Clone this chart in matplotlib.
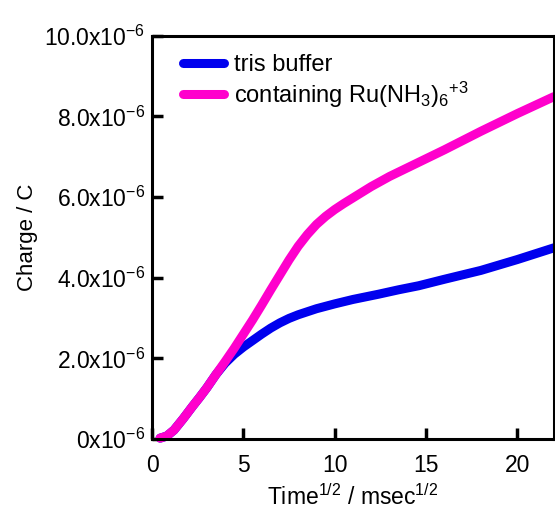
import matplotlib
matplotlib.use("Agg")
import matplotlib.pyplot as plt
from matplotlib.ticker import FuncFormatter

plt.rcParams["font.family"] = ["Liberation Sans", "DejaVu Sans"]
plt.rcParams["mathtext.fontset"] = "custom"
plt.rcParams["mathtext.rm"] = "Liberation Sans"
plt.rcParams["mathtext.it"] = "Liberation Sans:italic"
plt.rcParams["mathtext.bf"] = "Liberation Sans:bold"

# Time^1/2 (msec^1/2) and charge (uC)
t_tris = [0.44, 0.8, 1.2, 1.7, 2.2, 2.6, 3.0, 3.5, 4.0, 4.5, 5.0, 5.5, 6.0,
          6.5, 7.0, 7.5, 8.0, 9.0, 10.0, 11.0, 12.4, 13.5, 14.6, 16.0, 18.0,
          20.0, 22.0]
q_tris = [0.02, 0.07, 0.22, 0.5, 0.8, 1.03, 1.27, 1.6, 1.88, 2.1, 2.28, 2.44,
          2.6, 2.75, 2.88, 2.99, 3.08, 3.23, 3.35, 3.46, 3.59, 3.70, 3.80,
          3.96, 4.18, 4.45, 4.74]

t_ru = [0.44, 0.8, 1.2, 1.7, 2.2, 2.6, 3.0, 3.5, 4.0, 4.5, 5.0, 5.5, 6.0, 6.5,
        7.0, 7.5, 8.0, 8.5, 9.0, 9.5, 10.0, 10.5, 11.0, 12.0, 13.0, 14.0, 15.0,
        16.0, 17.0, 18.0, 19.0, 20.0, 21.0, 22.0]
q_ru = [0.02, 0.07, 0.22, 0.5, 0.8, 1.03, 1.27, 1.6, 1.92, 2.25, 2.6, 2.95,
        3.32, 3.7, 4.07, 4.44, 4.78, 5.07, 5.32, 5.52, 5.69, 5.84, 5.98, 6.26,
        6.51, 6.73, 6.95, 7.17, 7.4, 7.63, 7.85, 8.07, 8.28, 8.49]

fig = plt.figure(figsize=(5.55, 5.11), dpi=100)
ax = fig.add_axes([0.274, 0.141, 0.724, 0.789])

ax.plot(t_tris, [q * 1e-6 for q in q_tris], color="#0000ee", lw=6.5,
        solid_capstyle="round", solid_joinstyle="round", label="tris buffer",
        clip_on=False)
ax.plot(t_ru, [q * 1e-6 for q in q_ru], color="#ff00cc", lw=6.5,
        solid_capstyle="round", solid_joinstyle="round",
        label="containing Ru(NH$_3$)$_6$$^{+3}$", clip_on=False)

ax.set_xlim(0, 22)
ax.set_ylim(0, 10e-6)
ax.set_xticks([0, 5, 10, 15, 20])
ax.set_yticks([0, 2e-6, 4e-6, 6e-6, 8e-6, 10e-6])


def ylab(v, pos):
    m = v * 1e6
    s = "0" if abs(m) < 1e-9 else f"{m:.1f}"
    return s + "x10$^{-6}$"


ax.yaxis.set_major_formatter(FuncFormatter(ylab))
ax.tick_params(direction="in", length=8, width=2.5, labelsize=16.5,
               top=False, right=False)
ax.tick_params(axis="x", pad=11)
ax.tick_params(axis="y", pad=5)
for sp in ax.spines.values():
    sp.set_linewidth(2.2)

ax.set_xlabel("Time$^{1/2}$ / msec$^{1/2}$", fontsize=16.5, labelpad=5)
ax.set_ylabel("Charge / C", fontsize=16, labelpad=4)

ax.legend(loc="upper left", frameon=False, fontsize=17, handlelength=1.74,
          handletextpad=0.45, labelspacing=0.15, borderaxespad=0,
          borderpad=0, bbox_to_anchor=(0.076, 0.955))

fig.savefig("out.png", dpi=100)
